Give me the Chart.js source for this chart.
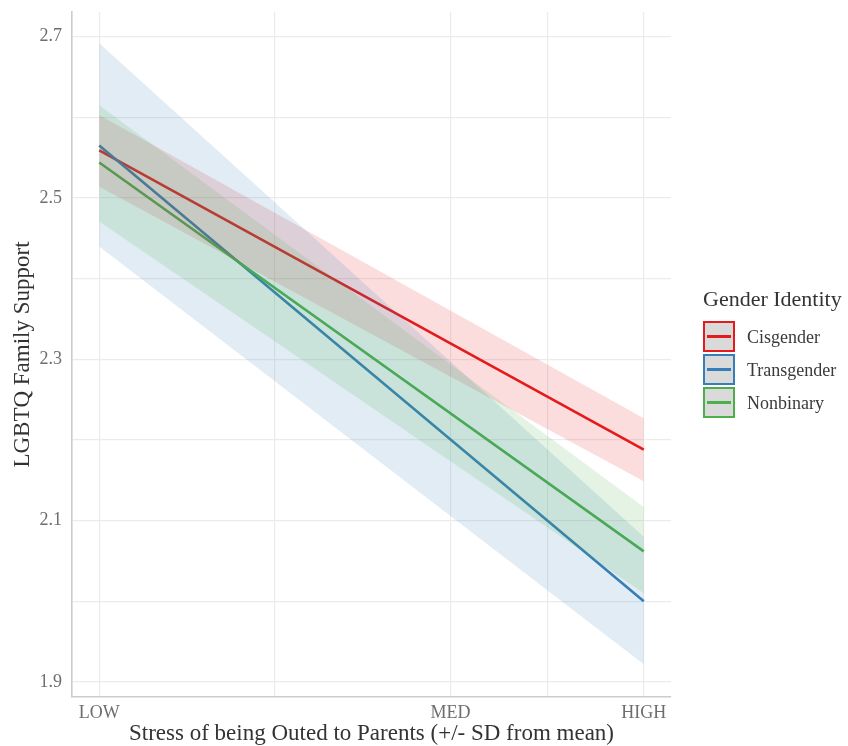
<!DOCTYPE html>
<html>
<head>
<meta charset="utf-8">
<script src="https://cdn.jsdelivr.net/npm/chart.js@4"></script>
<style>
  html, body { margin: 0; padding: 0; background: #ffffff; }
  #wrap { position: relative; width: 848px; height: 746px; }
  #chart { position: absolute; left: 0; top: 0; }
  .leg-title { position: absolute; left: 703px; top: 287px; font-family: "Liberation Serif", "Times New Roman", serif; font-size: 22px; line-height: 24px; color: #333333; white-space: nowrap; }
  .leg-row { position: absolute; left: 703px; height: 31px; }
  .leg-key { position: absolute; left: 0; top: 0; width: 28px; height: 27px; border: 2px solid; background: #dadada; }
  .leg-line { position: absolute; left: 2px; width: 24px; top: 12px; height: 3px; }
  .leg-label { position: absolute; left: 44px; top: 6px; font-family: "Liberation Serif", "Times New Roman", serif; font-size: 18px; line-height: 20px; color: #3a3a3a; white-space: nowrap; }
</style>
</head>
<body>
<div id="wrap">
  <canvas id="chart" width="848" height="746"></canvas>
  <div id="legend"></div>
</div>
<script>
// ---- Data ----
const categories = ['Cisgender', 'Transgender', 'Nonbinary'];
const colors = ['#E41A1C', '#377EB8', '#4DAF4A'];
const xTickLabels = ['LOW', 'MED', 'HIGH'];
const xTickValues = [-1, 0.29, 1];
const xPoints = [-1, 1];               // LOW and HIGH

const cisFit   = [2.559, 2.188];
const cisLow   = [2.514, 2.149];
const cisHigh  = [2.603, 2.227];

const transFit  = [2.565, 2.000];
const transLow  = [2.440, 1.922];
const transHigh = [2.692, 2.080];

const nonbFit  = [2.544, 2.062];
const nonbLow  = [2.471, 2.010];
const nonbHigh = [2.615, 2.117];

const yTickValues = [1.9, 2.1, 2.3, 2.5, 2.7];
const yMinorValues = [2.0, 2.2, 2.4, 2.6];
const yLimits = [1.8814, 2.7306];
const xLimits = [-1.1, 1.1];

const xTitle = 'Stress of being Outed to Parents (+/- SD from mean)';
const yTitle = 'LGBTQ Family Support';
const legendTitle = 'Gender Identity';

// ---- Build datasets ----
const fits = [cisFit, transFit, nonbFit];
const lows = [cisLow, transLow, nonbLow];
const highs = [cisHigh, transHigh, nonbHigh];

function hexToRgba(hex, a) {
  const n = parseInt(hex.slice(1), 16);
  return `rgba(${(n >> 16) & 255},${(n >> 8) & 255},${n & 255},${a})`;
}
function pts(arr) { return arr.map((v, i) => ({ x: xPoints[i], y: v })); }

const datasets = [];
categories.forEach((c, i) => {
  datasets.push({
    label: c, data: pts(fits[i]), borderColor: colors[i], borderWidth: 2.6,
    pointRadius: 0, fill: false, order: 20 - i, tension: 0
  });
});
categories.forEach((c, i) => {
  datasets.push({
    label: c + ' upper', data: pts(highs[i]), borderWidth: 0, borderColor: 'rgba(0,0,0,0)',
    backgroundColor: hexToRgba(colors[i], 0.15), pointRadius: 0,
    fill: '+1', order: 10 - 2 * i
  });
  datasets.push({
    label: c + ' lower', data: pts(lows[i]), borderWidth: 0, borderColor: 'rgba(0,0,0,0)',
    pointRadius: 0, fill: false, order: 9 - 2 * i
  });
});

const serif = '"Liberation Serif", "Times New Roman", serif';

const xGridTicks = [];
xTickValues.forEach((v, i) => {
  xGridTicks.push(v);
  if (i < xTickValues.length - 1) xGridTicks.push((v + xTickValues[i + 1]) / 2);
});
const yGridTicks = yTickValues.concat(yMinorValues).sort((a, b) => a - b);

new Chart(document.getElementById('chart'), {
  type: 'line',
  data: { datasets },
  options: {
    responsive: false,
    animation: false,
    events: [],
    layout: { padding: { left: 0, top: 12, right: 177, bottom: 0 } },
    plugins: { legend: { display: false }, tooltip: { enabled: false }, filler: { propagate: false } },
    scales: {
      x: {
        type: 'linear', min: xLimits[0], max: xLimits[1],
        afterBuildTicks: (s) => { s.ticks = xGridTicks.map(v => ({ value: v })); },
        afterFit: (s) => { s.height = 49; s.paddingLeft = 0; s.paddingRight = 0; },
        ticks: {
          autoSkip: false, maxRotation: 0, padding: 5,
          color: '#6e6e6e', font: { family: serif, size: 18 },
          callback: (v) => { const k = xTickValues.indexOf(v); return k >= 0 ? xTickLabels[k] : ''; }
        },
        grid: { color: '#ebebeb', lineWidth: 1.2, drawTicks: false },
        border: { display: true, color: '#cccccc', width: 1.6 },
        title: { display: true, text: xTitle, color: '#333333', font: { family: serif, size: 23, lineHeight: 1.1 }, padding: { top: 0, bottom: -1 } }
      },
      y: {
        type: 'linear', min: yLimits[0], max: yLimits[1],
        afterBuildTicks: (s) => { s.ticks = yGridTicks.map(v => ({ value: v })); },
        afterFit: (s) => { s.width = 72; s.paddingTop = 0; s.paddingBottom = 0; },
        ticks: {
          autoSkip: false, padding: 10,
          color: '#6e6e6e', font: { family: serif, size: 18 },
          callback: (v) => { const k = yTickValues.findIndex(t => Math.abs(t - v) < 1e-9); return k >= 0 ? yTickValues[k].toFixed(1) : ''; }
        },
        grid: { color: '#ebebeb', lineWidth: 1.2, drawTicks: false },
        border: { display: true, color: '#cccccc', width: 1.6 },
        title: { display: true, text: yTitle, color: '#333333', font: { family: serif, size: 23, lineHeight: 1.1 }, padding: { top: 10, bottom: 0 } }
      }
    }
  }
});

// ---- HTML legend ----
const leg = document.getElementById('legend');
const t = document.createElement('div');
t.className = 'leg-title';
t.textContent = legendTitle;
leg.appendChild(t);
categories.forEach((c, i) => {
  const row = document.createElement('div');
  row.className = 'leg-row';
  row.style.top = (321 + i * 32.8) + 'px';
  const key = document.createElement('div');
  key.className = 'leg-key';
  key.style.borderColor = colors[i];
  const line = document.createElement('div');
  line.className = 'leg-line';
  line.style.background = colors[i];
  key.appendChild(line);
  const lab = document.createElement('div');
  lab.className = 'leg-label';
  lab.textContent = c;
  row.appendChild(key);
  row.appendChild(lab);
  leg.appendChild(row);
});
</script>
</body>
</html>
